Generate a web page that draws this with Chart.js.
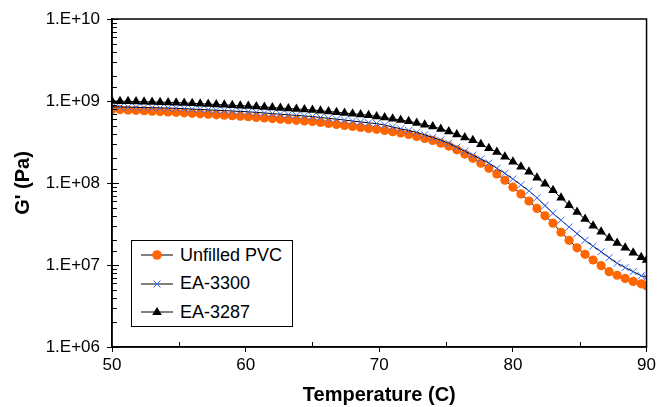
<!DOCTYPE html>
<html>
<head>
<meta charset="utf-8">
<script src="https://cdn.jsdelivr.net/npm/chart.js@4.4.1/dist/chart.umd.min.js"></script>
<style>
  body { margin: 0; background: #fff; }
  #wrap { position: relative; width: 659px; height: 407px; }
  #legend {
    position: absolute; left: 131px; top: 240px; width: 162px; height: 87px;
    border: 1px solid #000; background: #fff; box-sizing: border-box;
    font-family: "Liberation Sans", Arial, sans-serif; font-size: 18px; color: #000;
  }
  #legend .row { position: absolute; left: 0; height: 24px; display: flex; align-items: center; }
  #legend svg { margin-left: 9px; margin-right: 7px; }
</style>
</head>
<body>
<div id="wrap">
  <canvas id="chart" width="659" height="407"></canvas>
  <div id="legend"></div>
</div>
<script>
"use strict";

const temperature = [
    50.0, 50.6, 51.2, 51.8, 52.4, 53.0, 53.6, 54.2, 54.8, 55.4,
    56.0, 56.6, 57.2, 57.8, 58.4, 59.0, 59.6, 60.2, 60.8, 61.4,
    62.0, 62.6, 63.2, 63.8, 64.4, 65.0, 65.6, 66.2, 66.8, 67.4,
    68.0, 68.6, 69.2, 69.8, 70.4, 71.0, 71.6, 72.2, 72.8, 73.4,
    74.0, 74.6, 75.2, 75.8, 76.4, 77.0, 77.6, 78.2, 78.8, 79.4,
    80.0, 80.6, 81.2, 81.8, 82.4, 83.0, 83.6, 84.2, 84.8, 85.4,
    86.0, 86.6, 87.2, 87.8, 88.4, 89.0, 89.6, 90.0
];

// G' (Pa)
const unfilledPvc = [
    7.9e8, 7.85e8, 7.76e8, 7.69e8, 7.6e8, 7.52e8, 7.43e8, 7.35e8, 7.28e8, 7.18e8,
    7.08e8, 6.98e8, 6.89e8, 6.79e8, 6.7e8, 6.61e8, 6.52e8, 6.43e8, 6.31e8, 6.21e8,
    6.11e8, 6.01e8, 5.92e8, 5.81e8, 5.71e8, 5.62e8, 5.47e8, 5.32e8, 5.18e8, 5.04e8,
    4.9e8, 4.76e8, 4.63e8, 4.51e8, 4.37e8, 4.22e8, 4.07e8, 3.91e8, 3.7e8, 3.5e8,
    3.31e8, 3.06e8, 2.82e8, 2.54e8, 2.25e8, 2.0e8, 1.74e8, 1.51e8, 1.29e8, 1.08e8,
    8.9e7, 7.35e7, 6.03e7, 4.9e7, 3.98e7, 3.24e7, 2.51e7, 2.0e7, 1.62e7, 1.35e7,
    1.15e7, 9.8e6, 8.3e6, 7.5e6, 6.85e6, 6.3e6, 5.9e6, 5.6e6
];

const ea3300 = [
    8.51e8, 8.47e8, 8.41e8, 8.38e8, 8.32e8, 8.28e8, 8.24e8, 8.2e8, 8.15e8, 8.05e8,
    7.98e8, 7.89e8, 7.8e8, 7.71e8, 7.64e8, 7.55e8, 7.46e8, 7.38e8, 7.26e8, 7.14e8,
    7.02e8, 6.9e8, 6.79e8, 6.67e8, 6.56e8, 6.46e8, 6.3e8, 6.14e8, 6.0e8, 5.85e8,
    5.7e8, 5.56e8, 5.42e8, 5.3e8, 5.08e8, 4.82e8, 4.58e8, 4.36e8, 4.14e8, 3.87e8,
    3.59e8, 3.33e8, 3.05e8, 2.73e8, 2.44e8, 2.19e8, 1.96e8, 1.75e8, 1.51e8, 1.31e8,
    1.12e8, 9.5e7, 8.0e7, 6.6e7, 5.31e7, 4.27e7, 3.52e7, 2.91e7, 2.41e7, 2.0e7,
    1.7e7, 1.45e7, 1.23e7, 1.05e7, 9.3e6, 8.3e6, 7.4e6, 7.1e6
];

const ea3287 = [
    1.0e9, 9.95e8, 9.9e8, 9.84e8, 9.77e8, 9.73e8, 9.68e8, 9.62e8, 9.55e8, 9.48e8,
    9.38e8, 9.27e8, 9.16e8, 9.08e8, 8.98e8, 8.87e8, 8.77e8, 8.67e8, 8.55e8, 8.43e8,
    8.32e8, 8.2e8, 8.09e8, 7.98e8, 7.87e8, 7.76e8, 7.6e8, 7.45e8, 7.29e8, 7.14e8,
    7.0e8, 6.85e8, 6.7e8, 6.49e8, 6.28e8, 6.07e8, 5.87e8, 5.66e8, 5.4e8, 5.14e8,
    4.9e8, 4.57e8, 4.25e8, 3.91e8, 3.6e8, 3.31e8, 2.96e8, 2.65e8, 2.38e8, 2.09e8,
    1.82e8, 1.58e8, 1.37e8, 1.16e8, 9.8e7, 8.13e7, 6.6e7, 5.37e7, 4.42e7, 3.63e7,
    3.02e7, 2.54e7, 2.14e7, 1.86e7, 1.62e7, 1.41e7, 1.24e7, 1.15e7
];

const seriesNames = ['Unfilled PVC', 'EA-3300', 'EA-3287'];
const xTickLabels = [50, 60, 70, 80, 90];

const FONT = '"Liberation Sans", Arial, sans-serif';

function toPoints(values) {
    return values.map((v, i) => ({x: temperature[i], y: v}));
}

function isDecade(v) {
    const e = Math.log10(v);
    return Math.abs(e - Math.round(e)) < 1e-9;
}

// frame around plot + inside tick marks
const framePlugin = {
    id: 'frame',
    afterDraw(chart) {
        const {ctx, chartArea: a, scales} = chart;
        ctx.save();
        ctx.strokeStyle = '#000';
        ctx.lineWidth = 1.5;
        ctx.strokeRect(a.left, a.top, a.right - a.left, a.bottom - a.top);
        ctx.lineWidth = 1;
        ctx.beginPath();
        scales.y.ticks.forEach(t => {
            const py = Math.round(scales.y.getPixelForValue(t.value)) + 0.5;
            const len = isDecade(t.value) ? 7 : 5;
            ctx.moveTo(a.left, py);
            ctx.lineTo(a.left + len, py);
        });
        scales.x.ticks.forEach(t => {
            if (t.value % 10 === 0) return;
            const px = Math.round(scales.x.getPixelForValue(t.value)) + 0.5;
            ctx.moveTo(px, a.bottom);
            ctx.lineTo(px, a.bottom - 5);
        });
        ctx.stroke();
        ctx.restore();
    }
};

const chart = new Chart(document.getElementById('chart'), {
    type: 'line',
    data: {
        datasets: [{
            label: seriesNames[0],
            data: toPoints(unfilledPvc),
            borderColor: '#000',
            borderWidth: 1,
            pointStyle: 'circle',
            pointRadius: 4.6,
            pointBackgroundColor: '#ff6600',
            pointBorderColor: '#ff6600',
            pointBorderWidth: 0,
            order: 3
        }, {
            label: seriesNames[1],
            data: toPoints(ea3300),
            borderColor: '#000',
            borderWidth: 1,
            pointStyle: 'crossRot',
            pointRadius: 5,
            pointBorderColor: '#3366ff',
            pointBackgroundColor: '#3366ff',
            pointBorderWidth: 1,
            order: 2
        }, {
            label: seriesNames[2],
            data: toPoints(ea3287),
            borderColor: '#000',
            borderWidth: 1,
            pointStyle: 'triangle',
            pointRadius: 5.5,
            pointBackgroundColor: '#000',
            pointBorderColor: '#000',
            pointBorderWidth: 0,
            order: 1
        }]
    },
    options: {
        responsive: false,
        animation: false,
        layout: {padding: {left: 0, top: 19, right: 11, bottom: 0}},
        plugins: {
            legend: {display: false},
            tooltip: {enabled: false}
        },
        elements: {line: {tension: 0}},
        scales: {
            x: {
                type: 'linear',
                min: 50,
                max: 90,
                afterFit: s => { s.height = 60; },
                border: {color: '#000', width: 1.5},
                grid: {
                    drawOnChartArea: false,
                    tickLength: 5,
                    color: c => (c.tick && c.tick.value % 10 === 0) ? '#000' : 'rgba(0,0,0,0)'
                },
                ticks: {
                    stepSize: 5,
                    autoSkip: false,
                    maxRotation: 0,
                    padding: 3,
                    color: '#000',
                    font: {family: FONT, size: 17},
                    callback: v => xTickLabels.includes(v) ? String(v) : ''
                },
                title: {
                    display: true,
                    text: 'Temperature (C)',
                    color: '#000',
                    padding: {top: 0, bottom: 0},
                    font: {family: FONT, size: 20, weight: 'bold'}
                }
            },
            y: {
                type: 'logarithmic',
                min: 1e6,
                max: 1e10,
                afterFit: s => { s.width = 112; },
                border: {color: '#000', width: 1.5},
                grid: {
                    drawOnChartArea: false,
                    tickLength: 5,
                    color: c => (c.tick && isDecade(c.tick.value)) ? '#000' : 'rgba(0,0,0,0)'
                },
                ticks: {
                    autoSkip: false,
                    padding: 7,
                    color: '#000',
                    font: {family: FONT, size: 17},
                    callback: v => isDecade(v) ? '1.E+' + String(Math.round(Math.log10(v))).padStart(2, '0') : ''
                },
                title: {
                    display: true,
                    text: "G' (Pa)",
                    color: '#000',
                    padding: {top: 11, bottom: 0},
                    font: {family: FONT, size: 20, weight: 'bold'}
                }
            }
        }
    },
    plugins: [framePlugin]
});

// legend box, line + marker like the original
function buildLegend() {
    const symbols = [
        '<circle cx="16" cy="8" r="4.8" fill="#ff6600"/>',
        '<path d="M12.5 4.5 L19.5 11.5 M19.5 4.5 L12.5 11.5" stroke="#3366ff" stroke-width="1"/>',
        '<path d="M16 3 L20.8 11 L11.2 11 Z" fill="#000"/>'
    ];
    const legend = document.getElementById('legend');
    seriesNames.forEach((name, i) => {
        const row = document.createElement('div');
        row.className = 'row';
        row.style.top = (2 + i * 28.5) + 'px';
        row.innerHTML = '<svg width="32" height="16"><line x1="0" y1="8" x2="32" y2="8" stroke="#000" stroke-width="1"/>' +
            symbols[i] + '</svg><span>' + name + '</span>';
        legend.appendChild(row);
    });
}
buildLegend();
</script>
</body>
</html>
